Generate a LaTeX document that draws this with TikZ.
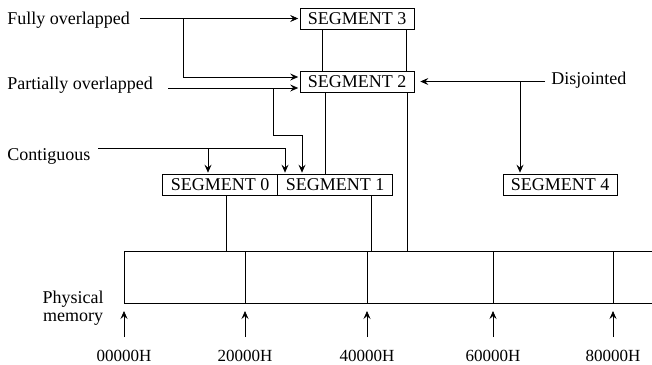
\documentclass[tikz,border=0pt]{standalone}
\usepackage{fontspec}
\setmainfont{Liberation Serif}
\usetikzlibrary{arrows.meta}
\begin{document}
\begin{tikzpicture}[x=1pt,y=-1pt,line width=0.7pt,
  >={Stealth[length=8pt,width=7pt,inset=3pt]},
  every node/.style={font=\fontsize{18pt}{18pt}\selectfont},
  segbox/.style={draw, minimum width=114pt, minimum height=21pt, inner sep=0pt},
  lbltext/.style={anchor=base west, inner sep=0pt},
  addr/.style={anchor=base, inner sep=0pt, font=\fontsize{17pt}{17pt}\selectfont},
  conn/.style={->, shorten >=1.5pt}]
\useasboundingbox (0,0) rectangle (652,364);

% segments
\node[segbox] (s3) at (357,18.5) {SEGMENT 3};
\node[segbox] (s2) at (357,81.5) {SEGMENT 2};
\node[segbox, minimum width=115pt] (s0) at (220,185) {SEGMENT 0};
\node[segbox, minimum width=115pt] (s1) at (335,185) {SEGMENT 1};
\node[segbox] (s4) at (560,185) {SEGMENT 4};

% labels
\node[lbltext] (fo) at (7,24) {Fully overlapped};
\node[lbltext] (po) at (7,89) {Partially overlapped};
\node[lbltext] (ct) at (7,160) {Contiguous};
\node[lbltext] (dj) at (551,84) {Disjointed};
\node[anchor=base, inner sep=0pt] (ph) at (73,303) {Physical};
\node[anchor=base, inner sep=0pt] (pm) at (73,321) {memory};

% fully overlapped
\coordinate (foS) at (140,18.5);
\coordinate (foB) at (183,18.5);
\coordinate (foT) at (183,77);
\draw[conn] (foS) -- (s3.west);
\draw[conn] (foB) -- (foT) -- (foT -| s2.west);

% partially overlapped
\coordinate (poS) at (168,88);
\coordinate (poB) at (273,88);
\coordinate (poT) at (302,135);
\draw[conn] (poS) -- (poS -| s2.west);
\draw[conn] (poB) |- (poT) -- (poT |- s1.north);

% contiguous
\coordinate (ctS) at (98,148);
\coordinate (ctE) at (285,148);
\coordinate (ctB) at (208,148);
\draw[conn] (ctS) -- (ctE) -- (ctE |- s1.north);
\draw[conn] (ctB) -- (ctB |- s0.north);

% disjointed
\coordinate (djS) at (545,81.5);
\coordinate (djB) at (520,81.5);
\draw[->, shorten >=6pt] (djS) -- (s2.east);
\draw[conn] (djB) -- (djB |- s4.north);

% physical memory
\node[minimum width=528pt, minimum height=52pt, inner sep=0pt, anchor=north west] (mem) at (124,251) {};
\draw (mem.north east) -- (mem.north west) -- (mem.south west) -- (mem.south east);

% segment limits
\draw ([xshift=23pt]s3.south west) -- ([xshift=23pt]s2.north west);
\draw ([xshift=-8pt]s3.south east) -- ([xshift=-8pt]s2.north east);
\draw ([xshift=26pt]s2.south west) -- ([xshift=26pt]s2.south west |- s1.north);
\draw ([xshift=-7pt]s2.south east) -- ([xshift=-7pt]s2.south east |- mem.north);
\draw ([xshift=64.5pt]s0.south west) -- ([xshift=64.5pt]s0.south west |- mem.north);
\draw ([xshift=94.5pt]s1.south west) -- ([xshift=94.5pt]s1.south west |- mem.north);

% dividers, address arrows and labels
\foreach \x/\t [count=\i] in {124/00000H, 245/20000H, 367/40000H, 493/60000H, 613/80000H} {
  \coordinate (dt\i) at (\x,251);
  \coordinate (db\i) at (\x,303);
  \coordinate (at\i) at (\x,337);
  \node[addr] (lb\i) at (\x,361) {\t};
  \draw[->] (at\i) -- ([yshift=-8pt]db\i);
}
\foreach \i in {2,3,4,5} { \draw (dt\i) -- (db\i); }
\end{tikzpicture}
\end{document}
